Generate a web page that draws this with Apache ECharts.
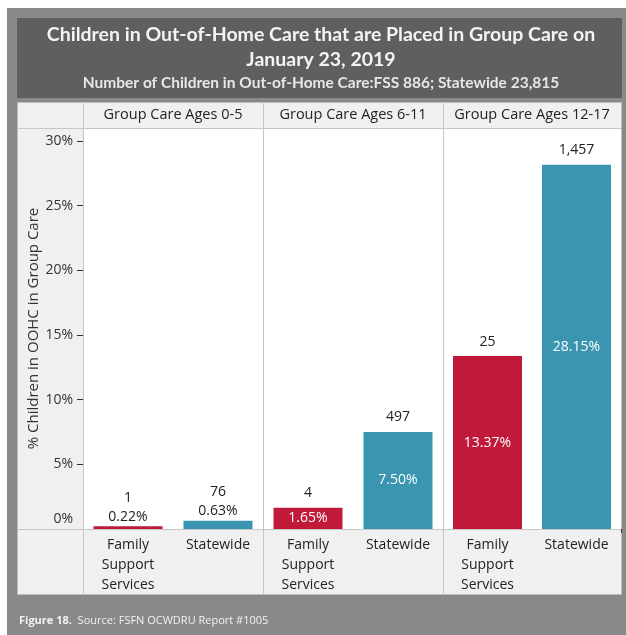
<!DOCTYPE html>
<html>
<head>
<meta charset="utf-8">
<script src="https://cdn.jsdelivr.net/npm/echarts@6/dist/echarts.min.js"></script>
<style>
html, body { margin: 0; padding: 0; background: #fff; }
#chart { width: 626px; height: 635px; }
</style>
</head>
<body>
<div id="chart"></div>
<script>
// data
var groups = ['Group Care Ages 0-5', 'Group Care Ages 6-11', 'Group Care Ages 12-17'];
var categories = ['Family\nSupport\nServices', 'Statewide'];
var fssPct = [0.22, 1.65, 13.37];
var statewidePct = [0.63, 7.50, 28.15];
var fssCount = [1, 4, 25];
var statewideCount = [76, 497, 1457];
var yTicks = [0, 5, 10, 15, 20, 25, 30];

var titleLines = ['Children in Out-of-Home Care that are Placed in Group Care on', 'January 23, 2019'];
var subtitle = 'Number of Children in Out-of-Home Care:FSS 886; Statewide 23,815';

var RED = '#c1193a';
var TEAL = '#3a95b0';
var FONT = 'Open Sans';

// layout
var plotLeft = 83, plotTop = 128, plotBottom = 529, panelRight = 621;
var facetW = [180, 180, 178];
var lineCol = '#c6c6c6';

function pctText(v) { return v.toFixed(2) + '%'; }
function countText(v) { return v.toLocaleString('en-US'); }

var chartDom = document.getElementById('chart');
var myChart = echarts.init(chartDom);

var grids = [], xAxes = [], yAxes = [], series = [];
var x0 = plotLeft;
var headerTexts = [];

groups.forEach(function (g, i) {
    grids.push({ left: x0, top: plotTop, width: facetW[i], height: plotBottom - plotTop, containLabel: false });
    headerTexts.push({
        type: 'text', z: 100,
        style: { text: g, x: x0 + facetW[i] / 2, y: 115, align: 'center', verticalAlign: 'middle',
            fill: '#222', font: '14.5px "' + FONT + '"' }
    });
    x0 += facetW[i];

    xAxes.push({
        type: 'category', gridIndex: i, data: categories,
        axisLine: { show: false },
        axisTick: { show: true, length: 4, interval: function (idx) { return idx === 1; },
            lineStyle: { color: '#333' } },
        axisLabel: { interval: 0, margin: 6, fontSize: 14, lineHeight: 20, color: '#222', fontFamily: FONT }
    });
    yAxes.push({
        type: 'value', gridIndex: i, min: 0, max: 31, interval: 5,
        splitLine: { show: false },
        axisLine: { show: false },
        axisTick: { show: i === 0, length: 6, lineStyle: { color: '#333' } },
        axisLabel: {
            show: i === 0, fontSize: 14, color: '#333', fontFamily: FONT, margin: 10,
            formatter: function (v) {
                if (yTicks.indexOf(v) < 0) return '';
                return v === 0 ? '{z|0%}' : v + '%';
            },
            rich: { z: { fontSize: 14, color: '#333', fontFamily: FONT, padding: [0, 0, 20, 0] } }
        },
        name: i === 0 ? '% Children in OOHC in Group Care' : '',
        nameLocation: 'middle', nameGap: 40,
        nameTextStyle: { fontSize: 15, color: '#333', fontFamily: FONT }
    });

    var vals = [fssPct[i], statewidePct[i]];
    var counts = [fssCount[i], statewideCount[i]];
    var cols = [RED, TEAL];

    // coloured bars with the percentage inside
    series.push({
        type: 'bar', xAxisIndex: i, yAxisIndex: i, barWidth: 69, barGap: '-100%', silent: true,
        data: vals.map(function (v, k) {
            return { value: v, itemStyle: { color: cols[k] }, label: { show: v >= 1 } };
        }),
        label: { position: 'inside', color: '#fff', fontSize: 14, fontFamily: FONT,
            formatter: function (p) { return pctText(p.value); } }
    });
    // transparent twin carrying the count above each bar
    series.push({
        type: 'bar', xAxisIndex: i, yAxisIndex: i, barWidth: 69, barGap: '-100%', silent: true,
        itemStyle: { color: 'rgba(0,0,0,0)' },
        data: vals.map(function (v, k) {
            return { value: v, label: { distance: v < 1 ? 0 : 5 } };
        }),
        label: { show: true, position: 'top', color: '#222', fontSize: 14, lineHeight: 19, fontFamily: FONT,
            formatter: function (p) {
                var c = countText(counts[p.dataIndex]);
                return p.value < 1 ? c + '\n' + pctText(p.value) : c;
            } }
    });
});

function hline(y) {
    return { type: 'line', z: 1, shape: { x1: 17, y1: y + 0.5, x2: panelRight, y2: y + 0.5 },
        style: { stroke: lineCol, lineWidth: 1 } };
}
function vline(x) {
    return { type: 'line', z: 1, shape: { x1: x + 0.5, y1: 102, x2: x + 0.5, y2: 594 },
        style: { stroke: lineCol, lineWidth: 1 } };
}

var graphics = [
    { type: 'rect', z: -10, shape: { x: 7, y: 8, width: 619, height: 627 }, style: { fill: '#898989' } },
    { type: 'rect', z: -9, shape: { x: 17, y: 18, width: 605, height: 80 }, style: { fill: '#5f5f5f' } },
    { type: 'rect', z: -9, shape: { x: 17.5, y: 102.5, width: 604, height: 492 },
        style: { fill: '#f0f0f0', stroke: '#bdbdbd', lineWidth: 1 } },
    { type: 'rect', z: -8, shape: { x: plotLeft, y: plotTop, width: panelRight - plotLeft, height: plotBottom - plotTop },
        style: { fill: '#fff' } },
    hline(plotTop), hline(plotBottom),
    vline(plotLeft), vline(plotLeft + facetW[0]), vline(plotLeft + facetW[0] + facetW[1]),
    { type: 'text', z: 100, style: { text: titleLines[0], x: 321, y: 35, align: 'center', verticalAlign: 'middle',
        fill: '#f4f4f4', font: 'bold 19.5px Lato' } },
    { type: 'text', z: 100, style: { text: titleLines[1], x: 321, y: 60, align: 'center', verticalAlign: 'middle',
        fill: '#f4f4f4', font: 'bold 19.5px Lato' } },
    { type: 'text', z: 100, style: { text: subtitle, x: 321, y: 83, align: 'center', verticalAlign: 'middle',
        fill: '#e6e6e6', font: 'bold 15.5px Lato' } },
    { type: 'text', z: 100, style: { text: '{b|Figure 18.}  Source: FSFN OCWDRU Report #1005', x: 19, y: 621,
        verticalAlign: 'middle', fill: '#f2f2f2', font: '11px "' + FONT + '"',
        rich: { b: { fontWeight: 'bold', fill: '#f2f2f2', fontSize: 11, fontFamily: FONT } } } }
].concat(headerTexts);

var option = {
    animation: false,
    grid: grids,
    xAxis: xAxes,
    yAxis: yAxes,
    series: series,
    graphic: { elements: graphics }
};

myChart.setOption(option);
</script>
</body>
</html>
